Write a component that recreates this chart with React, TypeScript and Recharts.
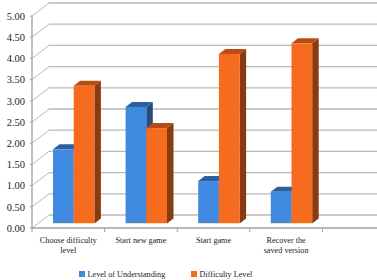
import { BarChart, Bar, XAxis, YAxis, CartesianGrid, Legend } from 'recharts';

const categories = ['Choose difficulty level', 'Start new game', 'Start game', 'Recover the saved version', ''];
const understanding = [1.75, 2.75, 1.0, 0.75, null];
const difficulty = [3.25, 2.25, 4.0, 4.25, null];
const yTicks = [0, 0.5, 1, 1.5, 2, 2.5, 3, 3.5, 4, 4.5, 5];
const labelLines: Record<string, string[]> = {
  'Choose difficulty level': ['Choose difficulty', 'level'],
  'Start new game': ['Start new game'],
  'Start game': ['Start game'],
  'Recover the saved version': ['Recover the', 'saved version'],
};

const data = categories.map((name, i) => ({
  name,
  understanding: understanding[i],
  difficulty: difficulty[i],
}));

const FONT = '"Liberation Serif", serif';
const GRID = '#b9b9b9';
const AXIS = '#a0a0a0';
const DEPTH_X = 17;
const DEPTH_Y = 13;
const BAND = 72.6;

// back wall gridline plus the diagonal running to the front axis
function WallLine(props: any) {
  const { x1, x2, y1 } = props;
  return (
    <g key={props.key ?? y1}>
      <line x1={x1} y1={y1} x2={x1 + DEPTH_X} y2={y1 - DEPTH_Y} stroke={GRID} strokeWidth={1} />
      <line x1={x1 + DEPTH_X} y1={y1 - DEPTH_Y} x2={x2} y2={y1 - DEPTH_Y} stroke={GRID} strokeWidth={1.3} />
    </g>
  );
}

function bar3d(front: string, top: string, side: string) {
  return (props: any) => {
    const { width, height } = props;
    if (!height) return <g />;
    const x = props.x + 5;
    const y = props.y - 4.5;
    const dx = 6.5;
    const dy = 5;
    return (
      <g>
        <rect x={x} y={y + height - 0.5} width={width} height={1} fill="#f6e3b0" />
        <polygon
          points={`${x + width},${y} ${x + width + dx},${y - dy} ${x + width + dx},${y + height - dy} ${x + width},${y + height}`}
          fill={side}
        />
        <polygon
          points={`${x},${y} ${x + dx},${y - dy} ${x + width + dx},${y - dy} ${x + width},${y}`}
          fill={top}
        />
        <rect x={x} y={y} width={width} height={height - 0.5} fill={front} />
      </g>
    );
  };
}

function CategoryTick(props: any) {
  const { x, y, payload } = props;
  const lines = labelLines[payload.value] ?? [];
  return (
    <g>
      <line x1={x - BAND / 2} y1={y - 8} x2={x - BAND / 2} y2={y - 4} stroke={AXIS} />
      {lines.map((line, i) => (
        <text
          key={line}
          x={x}
          y={y + 7 + i * 10}
          textAnchor="middle"
          fontFamily={FONT}
          fontSize={8.2}
          fill="#222"
        >
          {line}
        </text>
      ))}
    </g>
  );
}

function LegendRow(props: any) {
  return (
    <div style={{ position: 'relative', height: 12, fontFamily: FONT, fontSize: 8.2, color: '#222' }}>
      {props.payload.map((item: any, i: number) => (
        <span key={item.value} style={{ position: 'absolute', left: i * 112, top: 0, whiteSpace: 'nowrap' }}>
          <span
            style={{ display: 'inline-block', width: 6, height: 6, marginRight: 2.5, background: item.color }}
          />
          {item.value}
        </span>
      ))}
    </div>
  );
}

export default function App() {
  return (
    <div style={{ position: 'absolute', left: 0, top: 0, width: 377, height: 280, overflow: 'hidden', background: '#fff' }}>
      <BarChart
        width={395}
        height={280}
        data={data}
        margin={{ top: 16, right: 0, bottom: 0, left: 0 }}
        barSize={20.7}
        barGap={0}
      >
        <CartesianGrid vertical={false} horizontal={WallLine} />
        <XAxis
          dataKey="name"
          interval={0}
          height={40}
          tick={CategoryTick}
          tickLine={false}
          axisLine={{ stroke: AXIS, strokeWidth: 1.3 }}
        />
        <YAxis
          width={32}
          domain={[0, 5]}
          ticks={yTicks}
          tickFormatter={(v: number) => v.toFixed(2)}
          tick={{ fontFamily: FONT, fontSize: 10.5, fill: '#222' }}
          tickSize={2}
          tickMargin={5}
          tickLine={{ stroke: AXIS }}
          axisLine={{ stroke: AXIS, strokeWidth: 1.3 }}
          interval={0}
        />
        <Bar
          dataKey="understanding"
          name="Level of Understanding"
          fill="#4089e0"
          shape={bar3d('#4089e0', '#2b5f9f', '#264d80')}
          isAnimationActive={false}
        />
        <Bar
          dataKey="difficulty"
          name="Difficulty Level"
          fill="#f76b1e"
          shape={bar3d('#f76b1e', '#b84c16', '#8a3a10')}
          isAnimationActive={false}
        />
        <Legend
          content={LegendRow}
          itemSorter={null}
          wrapperStyle={{ left: 79, top: 270, width: 220, height: 12 }}
        />
      </BarChart>
    </div>
  );
}
